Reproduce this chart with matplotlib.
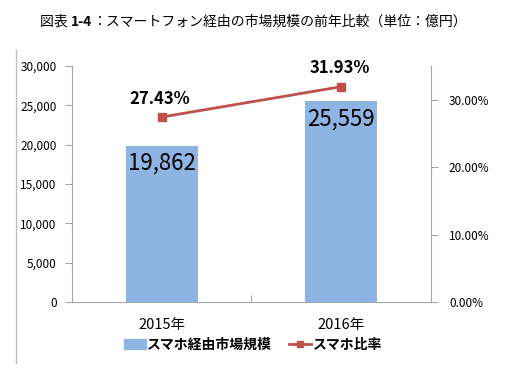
import matplotlib
matplotlib.use("Agg")
import matplotlib.pyplot as plt
from matplotlib.lines import Line2D
from matplotlib.patches import Patch
import numpy as np

plt.rcParams['font.family'] = ['Noto Sans CJK JP', 'DejaVu Sans']

# data
years = ['2015年', '2016年']
market = [19862, 25559]          # スマホ経由市場規模 (億円)
ratio = [27.43, 31.93]           # スマホ比率 (%)

bar_color = '#8DB4E2'
line_color = '#C0504D'
axis_color = '#A6A6A6'

fig = plt.figure(figsize=(5.16, 3.86), dpi=100)
ax = fig.add_axes([0.1395, 0.2176, 0.6955, 0.6114])
ax2 = ax.twinx()

x = np.arange(len(years))
ax.bar(x, market, width=0.4, color=bar_color, zorder=1)
ax.set_xlim(-0.5, 1.5)
ax.set_ylim(0, 30000)
ax.set_yticks(np.arange(0, 30001, 5000))
ax.set_yticklabels([f'{v:,}' for v in range(0, 30001, 5000)], fontsize=8.5)
ax.set_xticks([0.5])
ax.set_xticklabels([])
for i, v in enumerate(market):
    ax.text(x[i], v - 800, f'{v:,}', ha='center', va='top', fontsize=16, color='black')

# category labels below the axis
for i, lab in enumerate(years):
    ax.text(x[i], -2900, lab, ha='center', va='center', fontsize=10.5)

ax2.plot(x, ratio, color=line_color, lw=2, marker='s', markersize=6, zorder=3)
ax2.set_ylim(0, 35)
ax2.set_yticks([0, 10, 20, 30])
ax2.set_yticklabels([f'{v:.2f}%' for v in [0, 10, 20, 30]], fontsize=8.5)
for i, v in enumerate(ratio):
    ax2.text(x[i] - 0.01, v + 1.4, f'{v:.2f}%', ha='center', va='bottom',
             fontsize=12, fontweight='bold')

for a in (ax, ax2):
    a.spines['top'].set_visible(False)
    for s in ('left', 'right', 'bottom'):
        a.spines[s].set_color(axis_color)
    a.tick_params(colors=axis_color, labelcolor='black', length=5, width=0.8)
ax.spines['right'].set_visible(False)
ax2.spines['left'].set_visible(False)
ax2.spines['bottom'].set_visible(False)
ax.tick_params(axis='y', pad=6)
ax2.tick_params(axis='y', pad=8)
ax.tick_params(axis='x', direction='in', length=5)

handles = [Patch(color=bar_color),
           Line2D([0], [0], color=line_color, lw=2, marker='s', markersize=5)]
fig.legend(handles, ['スマホ経由市場規模', 'スマホ比率'], loc='center',
           bbox_to_anchor=(0.49, 0.106), ncol=2, frameon=False,
           prop={'size': 10, 'weight': 'bold'}, handlelength=1.6,
           handletextpad=0.1, columnspacing=1.2)

# title, with "1-4" in bold
t1 = fig.text(0.078, 0.943, '図表 ', fontsize=10, ha='left', va='center')
fig.canvas.draw()
r = fig.canvas.get_renderer()
bb = t1.get_window_extent(r)
t2 = fig.text(bb.x1 / fig.bbox.width, 0.943, '1-4', fontsize=10, fontweight='bold',
              ha='left', va='center')
bb2 = t2.get_window_extent(r)
fig.text(bb2.x1 / fig.bbox.width, 0.943, '：スマートフォン経由の市場規模の前年比較（単位：億円）',
         fontsize=10, ha='left', va='center')

# page border line on the left
fig.add_artist(Line2D([0.031, 0.031], [0.0596, 0.870], color='#BFBFBF', lw=1,
                      transform=fig.transFigure))

fig.savefig('out.png', dpi=100)
